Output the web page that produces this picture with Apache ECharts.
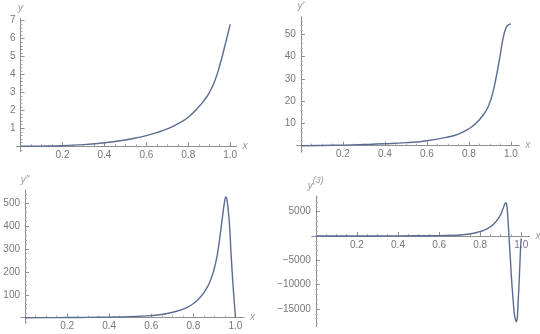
<!DOCTYPE html>
<html>
<head>
<meta charset="utf-8">
<script src="https://cdn.jsdelivr.net/npm/echarts@6/dist/echarts.min.js"></script>
<style>
html,body{margin:0;padding:0;background:#fff;}
#c{width:540px;height:334px;}
</style>
</head>
<body>
<div id="c"></div>
<script>
// ---- data ----
const x1 = [0, 0.1, 0.2, 0.3, 0.4, 0.45, 0.5, 0.55, 0.6, 0.65, 0.7, 0.75, 0.8, 0.85, 0.875, 0.9, 0.925, 0.95, 0.975, 1.0];
const y1 = [0, 0.008, 0.03, 0.09, 0.19, 0.26, 0.35, 0.46, 0.59, 0.76, 0.97, 1.25, 1.62, 2.2, 2.55, 2.98, 3.6, 4.5, 5.62, 6.8];

const x2 = [0, 0.1, 0.2, 0.3, 0.4, 0.5, 0.6, 0.7, 0.75, 0.8, 0.835, 0.868, 0.892, 0.913, 0.932, 0.948, 0.961, 0.973, 0.984, 0.995, 1.0];
const y2 = [0, 0.1, 0.25, 0.5, 0.85, 1.35, 2.2, 3.9, 5.2, 7.6, 10.2, 13.8, 17.6, 23.5, 31.8, 40.0, 47.4, 52.0, 54.0, 54.6, 54.7];

const x3 = [0, 0.1, 0.2, 0.3, 0.4, 0.5, 0.6, 0.656, 0.72, 0.767, 0.799, 0.83, 0.854, 0.878, 0.897, 0.913, 0.925, 0.938, 0.948, 0.954, 0.96, 0.97, 0.979, 0.989, 0.998, 1.0];
const y3 = [0, 0.3, 0.7, 1.3, 2.5, 4.5, 9, 15, 28, 44, 61, 87, 115, 156, 207, 272, 345, 439, 505, 527, 512, 425, 279, 134, 25, 0];

const x4 = [0, 0.3, 0.5, 0.6, 0.684, 0.748, 0.797, 0.83, 0.862, 0.894, 0.91, 0.918, 0.924, 0.929, 0.934, 0.94, 0.947, 0.953, 0.96, 0.966, 0.971, 0.976, 0.98, 0.982, 0.986, 0.99, 0.994, 0.997, 1.0];
const y4 = [0, 10, 40, 80, 150, 410, 890, 1400, 2300, 3970, 5480, 6400, 6840, 6500, 4200, 0, -4800, -9040, -13000, -15890, -17100, -17600, -17000, -15890, -12500, -9040, -5000, -2200, -500];

// tick labels
const xTicks = [0.2, 0.4, 0.6, 0.8, 1.0];
const yTicks1 = [1, 2, 3, 4, 5, 6, 7];
const yTicks2 = [10, 20, 30, 40, 50];
const yTicks3 = [100, 200, 300, 400, 500];
const yTicks4 = [-15000, -10000, -5000, 5000];

// axis names
const yNames = ['y', 'y\u2032', 'y\u2032\u2032', '{i|y}{s|(3)}'];

// ---- styling / layout ----
const FONT = '"Liberation Sans", Arial, sans-serif';
const AXIS = '#8f8f8f';
const LABEL = '#777777';
const CURVE = '#5b6c92';
const X_MIN = -0.02;

const panels = [
  {xs: x1, ys: y1, yTicks: yTicks1, grid: {left: 16.4, top: 18.4, width: 220.1, height: 133.2}, xMax: 1.03, yMin: -0.3, yMax: 7.13, split: 7},
  {xs: x2, ys: y2, yTicks: yTicks2, grid: {left: 296.7, top: 16.65, width: 222.6, height: 135.7}, xMax: 1.04, yMin: -3, yMax: 58, split: 6},
  {xs: x3, ys: y3, yTicks: yTicks3, grid: {left: 20.8, top: 189.8, width: 223.1, height: 133.4}, xMax: 1.04, yMin: -24, yMax: 558, split: 6},
  {xs: x4, ys: y4, yTicks: yTicks4, grid: {left: 311.7, top: 196.1, width: 217.8, height: 130.4}, xMax: 1.04, yMin: -18600, yMax: 8200, split: 5}
];

const fmtY = v => (v < 0 ? '\u2212' + Math.abs(v) : String(v));

const grids = [], xAxes = [], yAxes = [], series = [];
panels.forEach((p, i) => {
  const g = p.grid;
  // place axes through the origin (Mathematica style) by shifting them inward
  const xOff = -(0 - p.yMin) / (p.yMax - p.yMin) * g.height;
  const yOff = -(0 - X_MIN) / (p.xMax - X_MIN) * g.width;
  grids.push(Object.assign({containLabel: false, outerBoundsMode: 'none'}, g));
  xAxes.push({
    gridIndex: i, type: 'value', min: X_MIN, max: p.xMax, position: 'bottom', offset: xOff,
    splitLine: {show: false},
    name: 'x', nameLocation: 'end', nameGap: 6, nameMoveOverlap: false,
    nameTextStyle: {fontStyle: 'italic', color: '#999', fontSize: 10, fontFamily: FONT, verticalAlign: 'middle'},
    axisLine: {onZero: false, lineStyle: {color: AXIS, width: 1}},
    axisTick: {inside: true, length: 4, customValues: xTicks, lineStyle: {color: AXIS}},
    minorTick: {show: true, splitNumber: 4, length: 2, lineStyle: {color: '#a8a8a8'}},
    axisLabel: {customValues: xTicks, formatter: v => v.toFixed(1), margin: 4, color: LABEL, fontSize: 10, fontFamily: FONT}
  });
  yAxes.push({
    gridIndex: i, type: 'value', min: p.yMin, max: p.yMax, splitNumber: p.split, position: 'left', offset: yOff,
    splitLine: {show: false},
    name: yNames[i], nameLocation: 'end', nameGap: 5, nameMoveOverlap: false,
    nameTextStyle: {fontStyle: 'italic', color: '#999', fontSize: 10, fontFamily: FONT,
      rich: {
        i: {fontStyle: 'italic', color: '#999', fontSize: 10, fontFamily: FONT, verticalAlign: 'bottom', lineHeight: 15},
        s: {color: '#999', fontSize: 9, fontFamily: FONT, verticalAlign: 'top', lineHeight: 15}
      }},
    axisLine: {onZero: false, lineStyle: {color: AXIS, width: 1}},
    axisTick: {inside: true, length: 4, customValues: p.yTicks, lineStyle: {color: AXIS}},
    minorTick: {show: true, splitNumber: 5, length: 2, lineStyle: {color: '#a8a8a8'}},
    axisLabel: {customValues: p.yTicks, formatter: fmtY, margin: 5, color: LABEL, fontSize: 10, fontFamily: FONT}
  });
  series.push({
    type: 'line', xAxisIndex: i, yAxisIndex: i,
    data: p.xs.map((x, k) => [x, p.ys[k]]),
    showSymbol: false, smooth: 0.5,
    lineStyle: {color: CURVE, width: 1.4},
    itemStyle: {color: CURVE},
    animation: false, silent: true
  });
});

const chart = echarts.init(document.getElementById('c'), null, {renderer: 'canvas'});
chart.setOption({
  animation: false,
  backgroundColor: '#ffffff',
  textStyle: {fontFamily: FONT},
  grid: grids, xAxis: xAxes, yAxis: yAxes, series: series
});
</script>
</body>
</html>
